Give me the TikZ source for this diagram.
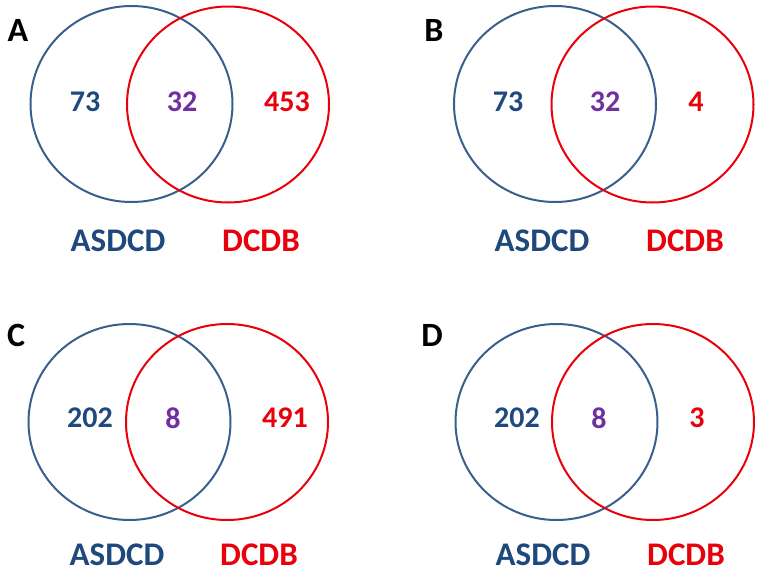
\documentclass[tikz,border=0pt]{standalone}
\usepackage{fontspec}
\setmainfont{Carlito}
\definecolor{cblue}{HTML}{3A5F8D}
\definecolor{tblue}{HTML}{1F497D}
\definecolor{cred}{HTML}{E8000B}
\definecolor{tpurp}{HTML}{7030A0}
\tikzset{
  bluering/.style={draw=cblue, line width=2pt, x radius=101pt, y radius=98pt},
  redring/.style={draw=cred, line width=2pt, x radius=101pt, y radius=98pt},
  num/.style={font=\fontsize{30}{33}\selectfont\bfseries, inner sep=0pt},
  setlabel/.style={font=\fontsize{33}{36}\selectfont\bfseries, inner sep=0pt},
  panel/.style={font=\fontsize{34}{37}\selectfont\bfseries, inner sep=0pt, text=black}
}
\begin{document}
\begin{tikzpicture}[x=1pt,y=-1pt]
\useasboundingbox (0,0) rectangle (761,574);
% Panel A
\node[panel] (la) at (18,30) {A};
\draw[bluering] (131.5,104) ellipse [];
\draw[redring] (228,104.5) ellipse [];
\node[num, text=tblue] (a1) at (85,102) {73};
\node[num, text=tpurp] (a2) at (182,102) {32};
\node[num, text=cred] (a3) at (287,102) {453};
\node[setlabel, text=tblue] (a4) at (118,241) {ASDCD};
\node[setlabel, text=cred] (a5) at (261,241) {DCDB};
% Panel B
\node[panel] (lb) at (434,30) {B};
\draw[bluering] (555,104) ellipse [];
\draw[redring] (652.5,104.5) ellipse [];
\node[num, text=tblue] (b1) at (508,102) {73};
\node[num, text=tpurp] (b2) at (605,102) {32};
\node[num, text=cred] (b3) at (696,102) {4};
\node[setlabel, text=tblue] (b4) at (542,241) {ASDCD};
\node[setlabel, text=cred] (b5) at (685,241) {DCDB};
% Panel C
\node[panel] (lc) at (16,335) {C};
\draw[bluering] (129.5,422) ellipse [];
\draw[redring] (227,422) ellipse [];
\node[num, text=tblue] (c1) at (90,418) {202};
\node[num, text=tpurp] (c2) at (173,418) {8};
\node[num, text=cred] (c3) at (285,418) {491};
\node[setlabel, text=tblue] (c4) at (117,555) {ASDCD};
\node[setlabel, text=cred] (c5) at (259,555) {DCDB};
% Panel D
\node[panel] (ld) at (432,335) {D};
\draw[bluering] (556.5,422) ellipse [];
\draw[redring] (653,422) ellipse [];
\node[num, text=tblue] (d1) at (517,418) {202};
\node[num, text=tpurp] (d2) at (599,418) {8};
\node[num, text=cred] (d3) at (697,418) {3};
\node[setlabel, text=tblue] (d4) at (543,555) {ASDCD};
\node[setlabel, text=cred] (d5) at (686,555) {DCDB};
\end{tikzpicture}
\end{document}
